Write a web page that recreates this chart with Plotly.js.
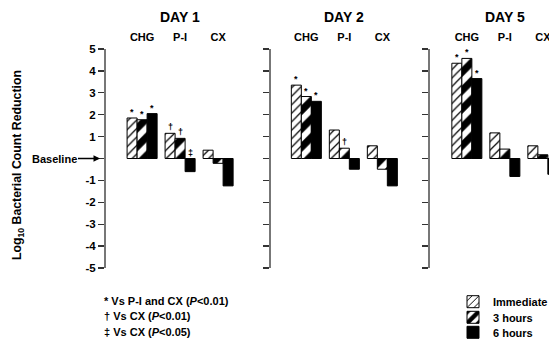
<!DOCTYPE html>
<html>
<head>
<meta charset="utf-8">
<script src="https://cdn.plot.ly/plotly-3.0.1.min.js"></script>
<style>html,body{margin:0;padding:0;background:#fff;}#chart{width:549px;height:341px;}</style>
</head>
<body>
<div id="chart"></div>
<script>
// ---- data ----
const days = ['DAY 1', 'DAY 2', 'DAY 5'];
const categories = ['CHG', 'P-I', 'CX'];
const seriesNames = ['Immediate', '3 hours', '6 hours'];

const day1Immediate = [1.85, 1.15, 0.38];
const day1ThreeHours = [1.77, 0.92, -0.22];
const day1SixHours = [2.05, -0.6, -1.25];

const day2Immediate = [3.35, 1.3, 0.58];
const day2ThreeHours = [2.83, 0.47, -0.49];
const day2SixHours = [2.61, -0.49, -1.25];

const day5Immediate = [4.35, 1.17, 0.58];
const day5ThreeHours = [4.57, 0.43, 0.17];
const day5SixHours = [3.65, -0.82, -0.72];

const day1ImmediateSig = ['*', '†', ''];
const day1ThreeHoursSig = ['*', '†', ''];
const day1SixHoursSig = ['*', '‡', ''];
const day2ImmediateSig = ['*', '', ''];
const day2ThreeHoursSig = ['*', '†', ''];
const day2SixHoursSig = ['*', '', ''];
const day5ImmediateSig = ['*', '', ''];
const day5ThreeHoursSig = ['*', '', ''];
const day5SixHoursSig = ['*', '', ''];

const yTickValues = [-5, -4, -3, -2, -1, 1, 2, 3, 4, 5];
const yTickLabels = ['-5', '-4', '-3', '-2', '-1', '1', '2', '3', '4', '5'];

const footnotes = ['* Vs P-I and CX (<i>P</i><0.01)', '† Vs CX (<i>P</i><0.01)', '‡ Vs CX (<i>P</i><0.05)'];

// ---- build ----
const FONT = 'Liberation Sans, Arial, Helvetica, sans-serif';
const dayData = [
  [day1Immediate, day1ThreeHours, day1SixHours],
  [day2Immediate, day2ThreeHours, day2SixHours],
  [day5Immediate, day5ThreeHours, day5SixHours]
];
const daySig = [
  [day1ImmediateSig, day1ThreeHoursSig, day1SixHoursSig],
  [day2ImmediateSig, day2ThreeHoursSig, day2SixHoursSig],
  [day5ImmediateSig, day5ThreeHoursSig, day5SixHoursSig]
];
const patterns = [
  {shape: '/', bgcolor: '#ffffff', fgcolor: '#000000', fgopacity: 1, size: 6, solidity: 0.2},
  {shape: '/', bgcolor: '#ffffff', fgcolor: '#000000', fgopacity: 1, size: 13, solidity: 0.55},
  null
];
const legendNames = ['legend', 'legend2', 'legend3'];

const BARGAP = 0.21;
const barW = (1 - BARGAP) / 3;

const traces = [];
const annotations = [];
dayData.forEach((series, d) => {
  const sfx = d === 0 ? '' : String(d + 1);
  series.forEach((vals, s) => {
    const marker = {color: s === 2 ? 'black' : 'white', line: {color: 'black', width: 1}};
    if (patterns[s]) marker.pattern = patterns[s];
    traces.push({
      type: 'bar', x: categories, y: vals, name: seriesNames[s],
      xaxis: 'x' + sfx, yaxis: 'y' + sfx, marker: marker,
      showlegend: d === 0, legend: legendNames[s], legendgroup: seriesNames[s],
      hoverinfo: 'none'
    });
    vals.forEach((v, c) => {
      const t = daySig[d][s][c];
      if (!t) return;
      annotations.push({
        xref: 'x' + sfx, yref: 'y' + sfx, x: c + (s - 1) * barW, y: Math.max(v, 0),
        text: '<b>' + t + '</b>', showarrow: false, yanchor: 'bottom', yshift: -1,
        font: {family: FONT, size: 9, color: 'black'}
      });
    });
  });
  annotations.push({
    xref: 'x' + sfx, yref: 'paper', x: 1, y: 0, yshift: 268 - 17, yanchor: 'middle',
    text: '<b>' + days[d] + '</b>',
    showarrow: false, font: {family: FONT, size: 14, color: 'black'}
  });
});

// pixel helpers (plot area: x 106..549, y 49..268)
const px = p => (p - 106) / 443;
const py = p => (268 - p) / 219;

footnotes.forEach((t, i) => {
  annotations.push({
    xref: 'paper', yref: 'paper', x: px(102), y: py(301 + i * 15.3), xanchor: 'left', yanchor: 'middle',
    text: '<b>' + t + '</b>', showarrow: false, font: {family: FONT, size: 11, color: 'black'}
  });
});

annotations.push({
  xref: 'paper', yref: 'y', x: px(100), y: 0, ax: -46, ay: 0, axref: 'pixel', ayref: 'pixel',
  text: '<b>Baseline</b>', showarrow: true, arrowhead: 2, arrowsize: 1, arrowwidth: 1.3,
  arrowcolor: 'black', standoff: 0, font: {family: FONT, size: 11, color: 'black'}
});
annotations.push({
  xref: 'paper', yref: 'paper', x: px(18), y: py(165), textangle: -90, xanchor: 'center', yanchor: 'middle',
  text: '<b>Log<sub>10</sub> Bacterial Count Reduction</b>', showarrow: false,
  font: {family: FONT, size: 12.3, color: 'black'}
});

function xax(domain, range) {
  return {
    domain: domain, range: range, type: 'category', categoryarray: categories,
    side: 'top', showline: false, showgrid: false, zeroline: false, ticks: '',
    ticklabelstandoff: 5,
    tickfont: {family: FONT, size: 11, color: 'black', weight: 'bold'}, fixedrange: true
  };
}
function yax(anchor, labels) {
  return {
    anchor: anchor, range: [-5, 5], tickvals: yTickValues, ticktext: yTickLabels,
    showticklabels: labels, ticks: 'outside', ticklen: 6, tickwidth: 1.3, tickcolor: '#333',
    showline: true, linecolor: '#777', linewidth: 2, showgrid: false, zeroline: false,
    minor: {tickvals: [0], ticks: 'outside', ticklen: 6, tickwidth: 1.3, tickcolor: '#333', showgrid: false},
    tickfont: {family: FONT, size: 11.5, color: 'black', weight: 'bold'}, fixedrange: true
  };
}

const layout = {
  width: 549, height: 341,
  margin: {l: 106, r: 0, t: 49, b: 73, autoexpand: false},
  paper_bgcolor: 'white', plot_bgcolor: 'white',
  barmode: 'group', bargap: BARGAP, bargroupgap: 0,
  xaxis: xax([0, px(271)], [-0.95, -0.95 + 165 / 38]),
  xaxis2: xax([px(271), px(430)], [-0.93, -0.93 + 159 / 38]),
  xaxis3: xax([px(430), 1], [-0.97, -0.97 + 119 / 38]),
  yaxis: yax('x', true),
  yaxis2: yax('x2', false),
  yaxis3: yax('x3', false),
  annotations: annotations,
  font: {family: FONT, color: 'black'}
};
[301.7, 317.3, 332.3].forEach((yc, i) => {
  layout[legendNames[i]] = {
    x: px(453), y: py(yc), xanchor: 'left', yanchor: 'middle', bgcolor: 'rgba(0,0,0,0)',
    font: {family: FONT, size: 11, color: 'black', weight: 'bold'}, itemwidth: 30
  };
});

Plotly.newPlot('chart', traces, layout, {displayModeBar: false, staticPlot: true});
</script>
</body>
</html>
